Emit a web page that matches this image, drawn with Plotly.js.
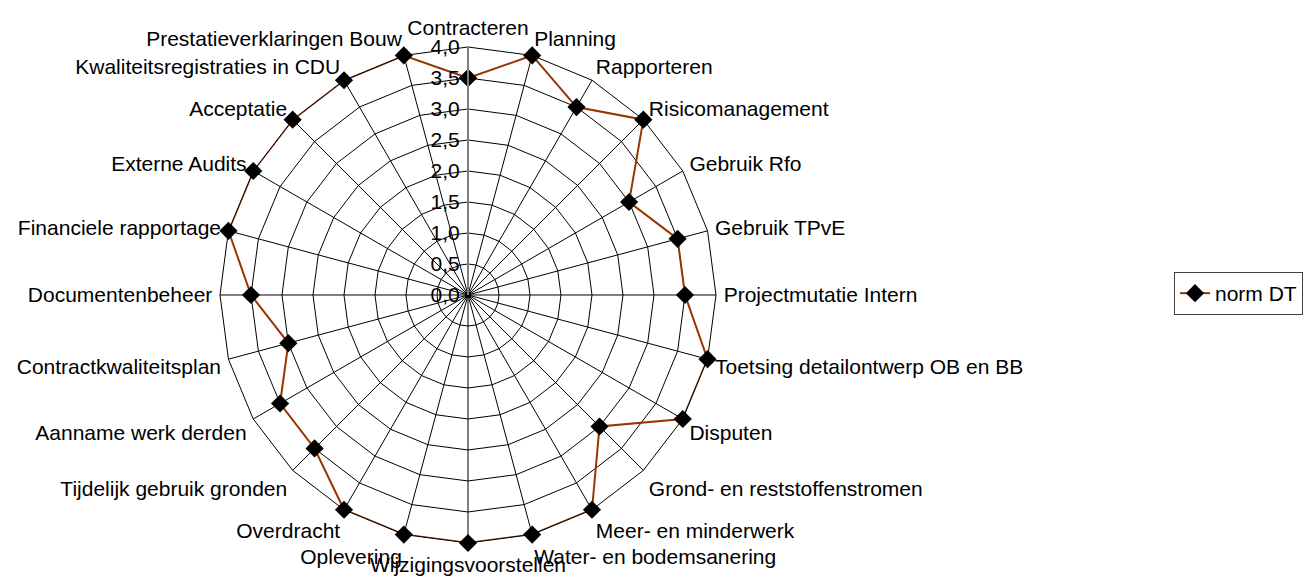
<!DOCTYPE html>
<html>
<head>
<meta charset="utf-8">
<script src="https://cdn.plot.ly/plotly-3.0.1.min.js"></script>
<style>html,body{margin:0;padding:0;background:#fff;}#chart{width:1310px;height:587px;}</style>
</head>
<body>
<div id="chart"></div>
<script>
const categories = [
  "Contracteren","Planning","Rapporteren","Risicomanagement","Gebruik Rfo","Gebruik TPvE",
  "Projectmutatie Intern","Toetsing detailontwerp OB en BB","Disputen","Grond- en reststoffenstromen",
  "Meer- en minderwerk","Water- en bodemsanering","Wijzigingsvoorstellen","Oplevering","Overdracht",
  "Tijdelijk gebruik gronden","Aanname werk derden","Contractkwaliteitsplan","Documentenbeheer",
  "Financiele rapportage","Externe Audits","Acceptatie","Kwaliteitsregistraties in CDU","Prestatieverklaringen Bouw"
];
const normDT = [3.5,4.0,3.5,4.0,3.0,3.5,3.5,4.0,4.0,3.0,4.0,4.0,4.0,4.0,4.0,3.5,3.5,3.0,3.5,4.0,4.0,4.0,4.0,4.0];
const radialTicks = [0,0.5,1,1.5,2,2.5,3,3.5,4];

const trace = {
  type: 'scatterpolar',
  mode: 'lines+markers',
  name: 'norm DT',
  r: normDT.concat([normDT[0]]),
  theta: categories.concat([categories[0]]),
  line: {color: '#993300', width: 2},
  marker: {symbol: 'diamond', color: '#000000', size: 14},
  cliponaxis: false
};

const layout = {
  width: 1310, height: 587,
  margin: {l:0, r:0, t:0, b:0},
  paper_bgcolor: '#ffffff',
  font: {family: 'Liberation Sans, Arial, sans-serif', size: 21, color: '#000000'},
  separators: ', ',
  showlegend: true,
  legend: {
    x: 1303/1310, y: 0.5, xanchor: 'right', yanchor: 'middle',
    bordercolor: '#404040', borderwidth: 1, bgcolor: '#ffffff',
    font: {size: 21}
  },
  polar: {
    domain: {x: [0.16794, 0.54656], y: [0.07496, 0.91993]},
    gridshape: 'linear',
    bgcolor: '#ffffff',
    angularaxis: {
      direction: 'clockwise', rotation: 90,
      linecolor: '#000000', linewidth: 1,
      gridcolor: '#000000', gridwidth: 1,
      showline: true, ticks: 'outside', ticklen: 3, tickcolor: 'rgba(0,0,0,0)',
      tickfont: {size: 21}
    },
    radialaxis: {
      range: [0, 4], angle: 90, side: 'counterclockwise',
      tickvals: radialTicks, tickformat: '.1f',
      showline: true, linecolor: '#808080', linewidth: 2,
      gridcolor: '#000000', gridwidth: 1,
      ticks: '', tickfont: {size: 21}, tickangle: 90
    }
  }
};

Plotly.newPlot('chart', [trace], layout, {displayModeBar: false, staticPlot: true});
</script>
</body>
</html>
